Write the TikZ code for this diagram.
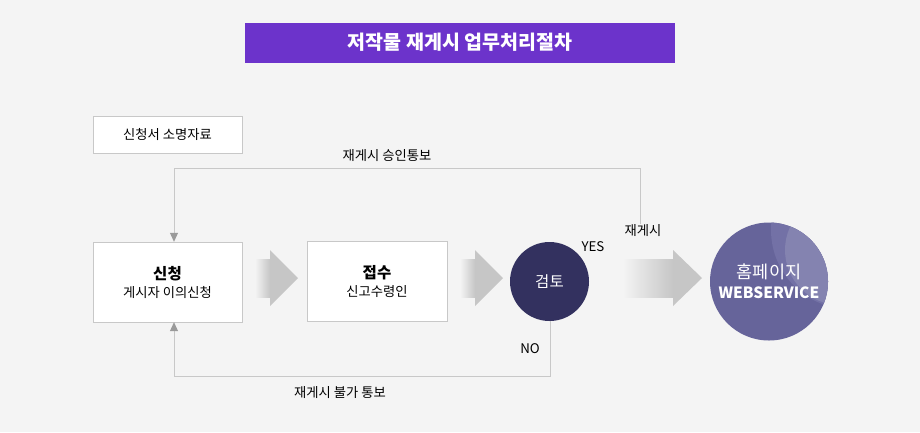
\documentclass[tikz,border=0pt]{standalone}
\usepackage{fontspec}
\setmainfont{Noto Sans CJK KR}
\usepackage{tikz}
\usetikzlibrary{arrows.meta,calc}
\definecolor{bgc}{HTML}{F4F4F4}
\definecolor{linec}{HTML}{C8C8C8}
\definecolor{tipc}{HTML}{9A9A9A}
\definecolor{arrc}{HTML}{C6C6C6}
\definecolor{titlec}{HTML}{6C33CB}
\definecolor{reviewc}{HTML}{33315F}
\definecolor{webc}{HTML}{66649A}
\definecolor{webhia}{HTML}{7371A6}
\definecolor{webhib}{HTML}{8483B0}
\tikzstyle{titlebar} = [rectangle, fill=titlec, text=white, minimum width=430pt, minimum height=40pt, font=\fontsize{19.5}{22}\selectfont\bfseries]
\tikzstyle{docbox} = [rectangle, draw=linec, fill=white, minimum width=149pt, minimum height=37pt, font=\fontsize{13.3}{16}\selectfont]
\tikzstyle{stepbox} = [rectangle, draw=linec, fill=white, minimum width=149pt, minimum height=80pt, align=center, font=\fontsize{13.3}{18}\selectfont]
\tikzstyle{review} = [circle, fill=reviewc, text=white, minimum size=79pt, font=\fontsize{15.5}{18}\selectfont]
\tikzstyle{web} = [circle, fill=webc, text=white, minimum size=118pt, align=center, font=\fontsize{17.5}{20}\selectfont]
\tikzstyle{lbl} = [inner sep=1pt, font=\fontsize{13.3}{16}\selectfont]
\tikzstyle{conn} = [draw=linec, line width=1pt, -{Triangle[length=9pt,width=8pt,color=tipc]}]
\newcommand{\blockarrow}[4]{%
  \shade[left color=bgc, right color=arrc] (#1,#4-19) rectangle (#2,#4+19);
  \fill[arrc] (#2,#4-28) -- (#3,#4) -- (#2,#4+28) -- cycle;}

\begin{document}
\begin{tikzpicture}[x=1pt,y=-1pt]
  \fill[bgc] (0,0) rectangle (920,432);
  \useasboundingbox (0,0) rectangle (920,432);
  \node (title)[titlebar] at (460,42.5){저작물 재게시 업무처리절차};
  \node (doc)[docbox] at (167.5,134.5){신청서 소명자료};
  \node (req)[stepbox] at (167.5,282){{\bfseries\fontsize{15.5}{18}\selectfont 신청}\\게시자 이의신청};
  \node (recv)[stepbox, minimum width=140pt] at (377,281.5){{\bfseries\fontsize{15.5}{18}\selectfont 접수}\\신고수령인};
  \node (review)[review] at (549.5,281.5){검토};
  \node (web)[web, path picture={
      \fill[webhia] ($(path picture bounding box.center)+(81,-51.5)$) circle (79pt);
      \fill[webhib] ($(path picture bounding box.center)+(71,-31.5)$) circle (55pt);}]
    at (769,281.5){홈페이지\\{\fontsize{15.5}{20}\selectfont\bfseries WEBSERVICE}};
  \blockarrow{255}{270}{298}{278}
  \blockarrow{460}{475}{503}{278}
  \blockarrow{623}{673}{702}{278}
  \node (yes)[lbl] at (593,247){YES};
  \node (no)[lbl] at (530,349){NO};
  \node (repost)[lbl] at (643,231){재게시};
  \coordinate (topR) at (640,168);
  \coordinate (topL) at (174,168);
  \coordinate (botR) at (550,376);
  \coordinate (botL) at (174,376);
  \draw[conn] (repost.north -| topR) -- (topR) -- (topL) -- (req.north -| topL);
  \draw[conn] (review.south -| botR) -- (botR) -- (botL) -- (req.south -| botL);
  \node (okmsg)[lbl] at (387,156){재게시 승인통보};
  \node (nomsg)[lbl] at (340,393){재게시 불가 통보};
\end{tikzpicture}
\end{document}
